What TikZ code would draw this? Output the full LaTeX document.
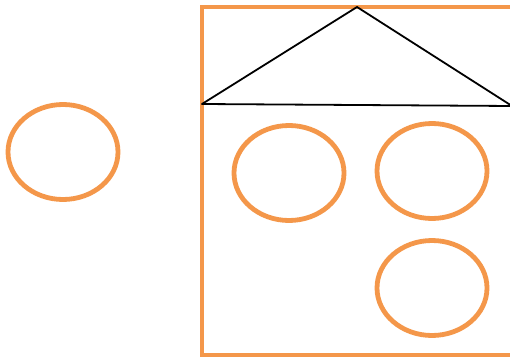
\documentclass[tikz,border=0pt]{standalone}
\usetikzlibrary{shapes.geometric}
\definecolor{setorange}{HTML}{F4974A}
\tikzset{
	setring/.style={draw=setorange, line width=4.8pt, ellipse, minimum width=110pt, minimum height=95pt, inner sep=0pt},
	setbox/.style={draw=setorange, line width=4.8pt},
	roofline/.style={black, line width=1.8pt, line join=round}
}
\begin{document}
\begin{tikzpicture}[x=1pt,y=-1pt]

	\useasboundingbox (0,0) rectangle (510,358);
	\clip (0,0) rectangle (510,358);

	\draw[setbox] (515,7) -- (202,7) -- (202,355) -- (515,355);

	\coordinate (apex) at (357,7);
	\coordinate (eaveL) at (202,104);
	\coordinate (eaveR) at (512,106);
	\draw[roofline] (eaveL) -- (apex) -- (eaveR) -- cycle;

	\node[setring] (outside) at (63,152) {};
	\node[setring] (inA) at (289,173) {};
	\node[setring] (inB) at (432,171) {};
	\node[setring] (inC) at (432,288) {};

\end{tikzpicture}
\end{document}
